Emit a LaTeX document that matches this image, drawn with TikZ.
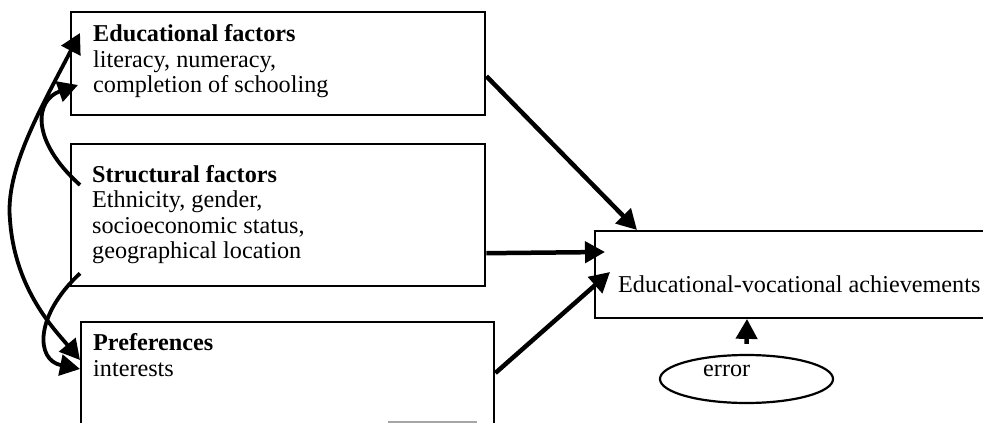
\documentclass[tikz,border=0pt]{standalone}
\usepackage{fontspec}
\setmainfont{Liberation Serif}
\usetikzlibrary{arrows.meta,shapes.geometric}
\tikzset{
  boxst/.style={draw, line width=2.4pt, rectangle, inner sep=0pt},
  txt/.style={anchor=base west, inner sep=0pt, align=left, font=\fontsize{24.2}{25.5}\selectfont},
  arr/.style={line width=4.5pt, -{Triangle[length=20pt,width=21pt]}},
  carr/.style={line width=3.8pt, -{Triangle[length=20pt,width=21pt]}},
  darr/.style={line width=3.8pt, {Triangle[length=20pt,width=21pt]}-{Triangle[length=20pt,width=21pt]}}
}
\begin{document}
\begin{tikzpicture}[x=1pt,y=-1pt]
\useasboundingbox (0,0) rectangle (983,423);
\clip (0,0) rectangle (983,423);
\fill[white] (0,0) rectangle (983,423);
% boxes
\node[boxst, anchor=north west, minimum width=414pt, minimum height=103pt] (edu) at (70,11) {};
\node[boxst, anchor=north west, minimum width=414pt, minimum height=142pt] (str) at (70,143) {};
\node[boxst, anchor=north west, minimum width=413pt, minimum height=130pt] (pref) at (80,321) {};
\node[boxst, anchor=north west, minimum width=420pt, minimum height=86.5pt] (ach) at (594,230) {};
\node[draw, ellipse, line width=2.2pt, minimum width=173pt, minimum height=48pt, inner sep=0pt] (err) at (746.5,379) {};
% texts (base anchor = baseline of the last line)
\node[txt] (edut) at (93,92.7) {\textbf{Educational factors}\\literacy, numeracy,\\completion of schooling};
\node[txt] (strt) at (92,258.5) {\textbf{Structural factors}\\Ethnicity, gender,\\socioeconomic status,\\geographical location};
\node[txt, font=\fontsize{24.2}{26.7}\selectfont] (preft) at (93,376.7) {\textbf{Preferences}\\interests};
\node[txt] (acht) at (618,292) {Educational-vocational achievements};
\node[txt] (errt) at (703,376.7) {error};
% straight arrows
\draw[arr] ([yshift=-12.5pt]edu.east) -- ([xshift=43pt]ach.north west);
\draw[arr] ([yshift=-38pt]str.east) -- ([xshift=11pt,yshift=-22pt]ach.north west);
\draw[arr] ([yshift=-52pt]pref.north east) -- ([xshift=16pt,yshift=-42pt]ach.north west);
\draw[arr] ([yshift=10pt]err.north) -- ([xshift=153pt]ach.south west);
% curved arrows
\draw[carr] ([xshift=10pt,yshift=-42pt]str.north west) .. controls (30,140) and (35,100) .. ([xshift=8pt,yshift=-74pt]edu.north west);
\draw[darr] ([xshift=10pt,yshift=-22pt]edu.north west) .. controls (40,110) and (5,170) .. (10,220) .. controls (15,290) and (55,330) .. ([yshift=-39pt]pref.north west);
\draw[carr] ([xshift=10pt,yshift=14pt]str.south west) .. controls (35,315) and (35,360) .. ([yshift=-48pt]pref.north west);
% scan artefact at the bottom edge
\draw[gray!70, line width=1.5pt] (388,422) -- (477,422);
\end{tikzpicture}
\end{document}
